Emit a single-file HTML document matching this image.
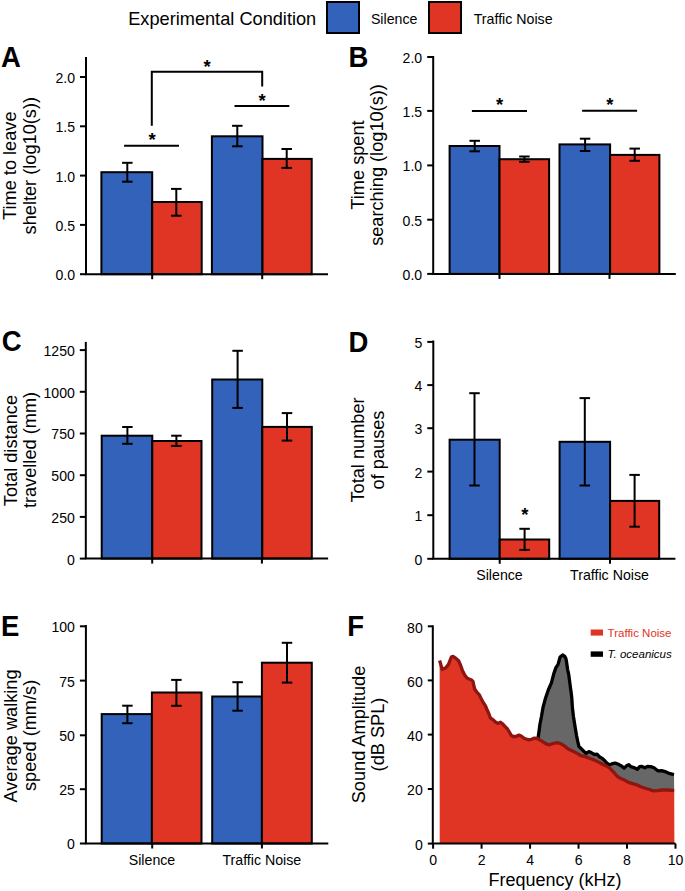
<!DOCTYPE html><html><head><meta charset="utf-8"><style>html,body{margin:0;padding:0;background:#fff;}svg{display:block;}text{font-family:"Liberation Sans", sans-serif;}</style></head><body>
<svg width="685" height="891" viewBox="0 0 685 891">
<rect width="685" height="891" fill="#fff"/>
<text x="128.2" y="24.8" font-size="18.2" text-anchor="start" font-weight="normal" fill="#000">Experimental Condition</text>
<rect x="327" y="2" width="32" height="31" fill="#3262BA" stroke="#000" stroke-width="2"/>
<text x="370.9" y="23.9" font-size="14.2" text-anchor="start" font-weight="normal" fill="#000">Silence</text>
<rect x="429" y="2" width="32" height="31" fill="#E03524" stroke="#000" stroke-width="2"/>
<text x="473.7" y="23.9" font-size="14.2" text-anchor="start" font-weight="normal" fill="#000">Traffic Noise</text>
<text transform="translate(1.0,66.7) scale(1,1.07)" x="0" y="0" font-size="27.5" text-anchor="start" font-weight="bold" fill="#000">A</text>
<text transform="translate(348.5,66.7) scale(1,1.07)" x="0" y="0" font-size="27.5" text-anchor="start" font-weight="bold" fill="#000">B</text>
<text transform="translate(1.7,351.4) scale(1,1.07)" x="0" y="0" font-size="27.5" text-anchor="start" font-weight="bold" fill="#000">C</text>
<text transform="translate(348.5,351.8) scale(1,1.07)" x="0" y="0" font-size="27.5" text-anchor="start" font-weight="bold" fill="#000">D</text>
<text transform="translate(1.0,636.4) scale(1,1.07)" x="0" y="0" font-size="27.5" text-anchor="start" font-weight="bold" fill="#000">E</text>
<text transform="translate(347.2,636.4) scale(1,1.07)" x="0" y="0" font-size="27.5" text-anchor="start" font-weight="bold" fill="#000">F</text>
<rect x="101.4" y="172.2" width="50.79999999999998" height="102.0" fill="#3262BA" stroke="#000" stroke-width="2"/>
<rect x="152.2" y="202" width="49.5" height="72.19999999999999" fill="#E03524" stroke="#000" stroke-width="2"/>
<rect x="211.9" y="136.3" width="50.599999999999994" height="137.89999999999998" fill="#3262BA" stroke="#000" stroke-width="2"/>
<rect x="262.5" y="158.9" width="49.19999999999999" height="115.29999999999998" fill="#E03524" stroke="#000" stroke-width="2"/>
<line x1="127.3" y1="162.8" x2="127.3" y2="181.7" stroke="#000" stroke-width="2"/>
<line x1="122.05" y1="162.8" x2="132.55" y2="162.8" stroke="#000" stroke-width="2"/>
<line x1="122.05" y1="181.7" x2="132.55" y2="181.7" stroke="#000" stroke-width="2"/>
<line x1="176.3" y1="188.9" x2="176.3" y2="215.7" stroke="#000" stroke-width="2"/>
<line x1="171.05" y1="188.9" x2="181.55" y2="188.9" stroke="#000" stroke-width="2"/>
<line x1="171.05" y1="215.7" x2="181.55" y2="215.7" stroke="#000" stroke-width="2"/>
<line x1="237.3" y1="125.8" x2="237.3" y2="146.3" stroke="#000" stroke-width="2"/>
<line x1="232.05" y1="125.8" x2="242.55" y2="125.8" stroke="#000" stroke-width="2"/>
<line x1="232.05" y1="146.3" x2="242.55" y2="146.3" stroke="#000" stroke-width="2"/>
<line x1="286.7" y1="149" x2="286.7" y2="167.9" stroke="#000" stroke-width="2"/>
<line x1="281.45" y1="149" x2="291.95" y2="149" stroke="#000" stroke-width="2"/>
<line x1="281.45" y1="167.9" x2="291.95" y2="167.9" stroke="#000" stroke-width="2"/>
<line x1="86" y1="57" x2="86" y2="274.2" stroke="#000" stroke-width="2"/>
<line x1="80" y1="274.2" x2="86" y2="274.2" stroke="#000" stroke-width="2"/>
<text transform="translate(75,280.1) scale(1,1.06)" x="0" y="0" font-size="14.1" text-anchor="end" font-weight="normal" fill="#000">0.0</text>
<line x1="80" y1="224.9" x2="86" y2="224.9" stroke="#000" stroke-width="2"/>
<text transform="translate(75,230.8) scale(1,1.06)" x="0" y="0" font-size="14.1" text-anchor="end" font-weight="normal" fill="#000">0.5</text>
<line x1="80" y1="175.6" x2="86" y2="175.6" stroke="#000" stroke-width="2"/>
<text transform="translate(75,181.5) scale(1,1.06)" x="0" y="0" font-size="14.1" text-anchor="end" font-weight="normal" fill="#000">1.0</text>
<line x1="80" y1="126.3" x2="86" y2="126.3" stroke="#000" stroke-width="2"/>
<text transform="translate(75,132.2) scale(1,1.06)" x="0" y="0" font-size="14.1" text-anchor="end" font-weight="normal" fill="#000">1.5</text>
<line x1="80" y1="77" x2="86" y2="77" stroke="#000" stroke-width="2"/>
<text transform="translate(75,82.9) scale(1,1.06)" x="0" y="0" font-size="14.1" text-anchor="end" font-weight="normal" fill="#000">2.0</text>
<line x1="85" y1="274.2" x2="328" y2="274.2" stroke="#000" stroke-width="2"/>
<line x1="152.2" y1="274.2" x2="152.2" y2="279.2" stroke="#000" stroke-width="2"/>
<line x1="262.2" y1="274.2" x2="262.2" y2="279.2" stroke="#000" stroke-width="2"/>
<line x1="124.1" y1="145.8" x2="179" y2="145.8" stroke="#000" stroke-width="2"/>
<text x="152" y="146.49" font-size="18.5" text-anchor="middle" font-weight="bold" fill="#000">*</text>
<polyline points="151.8,125.7 151.8,71.8 262.2,71.8 262.2,86.4" fill="none" stroke="#000" stroke-width="2"/>
<text x="207" y="72.73" font-size="18.5" text-anchor="middle" font-weight="bold" fill="#000">*</text>
<line x1="234.5" y1="106.1" x2="289.3" y2="106.1" stroke="#000" stroke-width="2"/>
<text x="262.2" y="107.03" font-size="18.5" text-anchor="middle" font-weight="bold" fill="#000">*</text>
<text transform="translate(16.1,165.7) rotate(-90)" x="0" y="0" font-size="18.2" text-anchor="middle">Time to leave</text>
<text transform="translate(35.8,165.7) rotate(-90)" x="0" y="0" font-size="18.2" text-anchor="middle">shelter (log10(s))</text>
<rect x="449.6" y="146" width="49.89999999999998" height="127.89999999999998" fill="#3262BA" stroke="#000" stroke-width="2"/>
<rect x="499.5" y="159.2" width="49.60000000000002" height="114.69999999999999" fill="#E03524" stroke="#000" stroke-width="2"/>
<rect x="559.5" y="144.4" width="50.60000000000002" height="129.49999999999997" fill="#3262BA" stroke="#000" stroke-width="2"/>
<rect x="610.1" y="154.9" width="49.299999999999955" height="118.99999999999997" fill="#E03524" stroke="#000" stroke-width="2"/>
<line x1="474.7" y1="140.8" x2="474.7" y2="151.3" stroke="#000" stroke-width="2"/>
<line x1="469.45" y1="140.8" x2="479.95" y2="140.8" stroke="#000" stroke-width="2"/>
<line x1="469.45" y1="151.3" x2="479.95" y2="151.3" stroke="#000" stroke-width="2"/>
<line x1="524.4" y1="156.5" x2="524.4" y2="161.8" stroke="#000" stroke-width="2"/>
<line x1="519.15" y1="156.5" x2="529.65" y2="156.5" stroke="#000" stroke-width="2"/>
<line x1="519.15" y1="161.8" x2="529.65" y2="161.8" stroke="#000" stroke-width="2"/>
<line x1="585.1" y1="138.7" x2="585.1" y2="151" stroke="#000" stroke-width="2"/>
<line x1="579.85" y1="138.7" x2="590.35" y2="138.7" stroke="#000" stroke-width="2"/>
<line x1="579.85" y1="151" x2="590.35" y2="151" stroke="#000" stroke-width="2"/>
<line x1="634.7" y1="148.6" x2="634.7" y2="160.8" stroke="#000" stroke-width="2"/>
<line x1="629.45" y1="148.6" x2="639.95" y2="148.6" stroke="#000" stroke-width="2"/>
<line x1="629.45" y1="160.8" x2="639.95" y2="160.8" stroke="#000" stroke-width="2"/>
<line x1="433.2" y1="56" x2="433.2" y2="273.9" stroke="#000" stroke-width="2"/>
<line x1="427.2" y1="273.9" x2="433.2" y2="273.9" stroke="#000" stroke-width="2"/>
<text transform="translate(422.2,279.8) scale(1,1.06)" x="0" y="0" font-size="14.1" text-anchor="end" font-weight="normal" fill="#000">0.0</text>
<line x1="427.2" y1="219.7" x2="433.2" y2="219.7" stroke="#000" stroke-width="2"/>
<text transform="translate(422.2,225.6) scale(1,1.06)" x="0" y="0" font-size="14.1" text-anchor="end" font-weight="normal" fill="#000">0.5</text>
<line x1="427.2" y1="165.4" x2="433.2" y2="165.4" stroke="#000" stroke-width="2"/>
<text transform="translate(422.2,171.3) scale(1,1.06)" x="0" y="0" font-size="14.1" text-anchor="end" font-weight="normal" fill="#000">1.0</text>
<line x1="427.2" y1="110.9" x2="433.2" y2="110.9" stroke="#000" stroke-width="2"/>
<text transform="translate(422.2,116.8) scale(1,1.06)" x="0" y="0" font-size="14.1" text-anchor="end" font-weight="normal" fill="#000">1.5</text>
<line x1="427.2" y1="57" x2="433.2" y2="57" stroke="#000" stroke-width="2"/>
<text transform="translate(422.2,62.9) scale(1,1.06)" x="0" y="0" font-size="14.1" text-anchor="end" font-weight="normal" fill="#000">2.0</text>
<line x1="432.2" y1="273.9" x2="675.8" y2="273.9" stroke="#000" stroke-width="2"/>
<line x1="499.5" y1="273.9" x2="499.5" y2="278.9" stroke="#000" stroke-width="2"/>
<line x1="609.5" y1="273.9" x2="609.5" y2="278.9" stroke="#000" stroke-width="2"/>
<line x1="471.9" y1="111.1" x2="527" y2="111.1" stroke="#000" stroke-width="2"/>
<text x="499.5" y="111.44" font-size="18.5" text-anchor="middle" font-weight="bold" fill="#000">*</text>
<line x1="582.1" y1="110.8" x2="637.1" y2="110.8" stroke="#000" stroke-width="2"/>
<text x="609.8" y="111.44" font-size="18.5" text-anchor="middle" font-weight="bold" fill="#000">*</text>
<text transform="translate(363.6,165) rotate(-90)" x="0" y="0" font-size="18.2" text-anchor="middle">Time spent</text>
<text transform="translate(383,165) rotate(-90)" x="0" y="0" font-size="18.2" text-anchor="middle">searching (log10(s))</text>
<rect x="101.7" y="435.7" width="50.60000000000001" height="122.90000000000003" fill="#3262BA" stroke="#000" stroke-width="2"/>
<rect x="152.3" y="441" width="49.19999999999999" height="117.60000000000002" fill="#E03524" stroke="#000" stroke-width="2"/>
<rect x="212.2" y="379.5" width="50.10000000000002" height="179.10000000000002" fill="#3262BA" stroke="#000" stroke-width="2"/>
<rect x="262.3" y="426.9" width="49.5" height="131.70000000000005" fill="#E03524" stroke="#000" stroke-width="2"/>
<line x1="127.4" y1="427" x2="127.4" y2="443.8" stroke="#000" stroke-width="2"/>
<line x1="122.15" y1="427" x2="132.65" y2="427" stroke="#000" stroke-width="2"/>
<line x1="122.15" y1="443.8" x2="132.65" y2="443.8" stroke="#000" stroke-width="2"/>
<line x1="176.4" y1="435.7" x2="176.4" y2="445.9" stroke="#000" stroke-width="2"/>
<line x1="171.15" y1="435.7" x2="181.65" y2="435.7" stroke="#000" stroke-width="2"/>
<line x1="171.15" y1="445.9" x2="181.65" y2="445.9" stroke="#000" stroke-width="2"/>
<line x1="237.6" y1="350.8" x2="237.6" y2="407.9" stroke="#000" stroke-width="2"/>
<line x1="232.35" y1="350.8" x2="242.85" y2="350.8" stroke="#000" stroke-width="2"/>
<line x1="232.35" y1="407.9" x2="242.85" y2="407.9" stroke="#000" stroke-width="2"/>
<line x1="287" y1="413.1" x2="287" y2="440.6" stroke="#000" stroke-width="2"/>
<line x1="281.75" y1="413.1" x2="292.25" y2="413.1" stroke="#000" stroke-width="2"/>
<line x1="281.75" y1="440.6" x2="292.25" y2="440.6" stroke="#000" stroke-width="2"/>
<line x1="85.8" y1="341.9" x2="85.8" y2="558.6" stroke="#000" stroke-width="2"/>
<line x1="79.8" y1="558.6" x2="85.8" y2="558.6" stroke="#000" stroke-width="2"/>
<text transform="translate(74.8,564.5) scale(1,1.06)" x="0" y="0" font-size="14.1" text-anchor="end" font-weight="normal" fill="#000">0</text>
<line x1="79.8" y1="516.9" x2="85.8" y2="516.9" stroke="#000" stroke-width="2"/>
<text transform="translate(74.8,522.8) scale(1,1.06)" x="0" y="0" font-size="14.1" text-anchor="end" font-weight="normal" fill="#000">250</text>
<line x1="79.8" y1="475.2" x2="85.8" y2="475.2" stroke="#000" stroke-width="2"/>
<text transform="translate(74.8,481.1) scale(1,1.06)" x="0" y="0" font-size="14.1" text-anchor="end" font-weight="normal" fill="#000">500</text>
<line x1="79.8" y1="433.5" x2="85.8" y2="433.5" stroke="#000" stroke-width="2"/>
<text transform="translate(74.8,439.4) scale(1,1.06)" x="0" y="0" font-size="14.1" text-anchor="end" font-weight="normal" fill="#000">750</text>
<line x1="79.8" y1="391.8" x2="85.8" y2="391.8" stroke="#000" stroke-width="2"/>
<text transform="translate(74.8,397.7) scale(1,1.06)" x="0" y="0" font-size="14.1" text-anchor="end" font-weight="normal" fill="#000">1000</text>
<line x1="79.8" y1="350.1" x2="85.8" y2="350.1" stroke="#000" stroke-width="2"/>
<text transform="translate(74.8,356.0) scale(1,1.06)" x="0" y="0" font-size="14.1" text-anchor="end" font-weight="normal" fill="#000">1250</text>
<line x1="84.8" y1="558.6" x2="328.1" y2="558.6" stroke="#000" stroke-width="2"/>
<line x1="152.2" y1="558.6" x2="152.2" y2="563.6" stroke="#000" stroke-width="2"/>
<line x1="261.9" y1="558.6" x2="261.9" y2="563.6" stroke="#000" stroke-width="2"/>
<text transform="translate(16.6,450.6) rotate(-90)" x="0" y="0" font-size="18.2" text-anchor="middle">Total distance</text>
<text transform="translate(35.9,450) rotate(-90)" x="0" y="0" font-size="18.2" text-anchor="middle">travelled (mm)</text>
<rect x="449.6" y="439.7" width="50.099999999999966" height="119.09999999999997" fill="#3262BA" stroke="#000" stroke-width="2"/>
<rect x="499.7" y="539.5" width="49.50000000000006" height="19.299999999999955" fill="#E03524" stroke="#000" stroke-width="2"/>
<rect x="559.6" y="441.8" width="50.5" height="116.99999999999994" fill="#3262BA" stroke="#000" stroke-width="2"/>
<rect x="610.1" y="500.9" width="49.10000000000002" height="57.89999999999998" fill="#E03524" stroke="#000" stroke-width="2"/>
<line x1="474.5" y1="393.2" x2="474.5" y2="485.5" stroke="#000" stroke-width="2"/>
<line x1="469.25" y1="393.2" x2="479.75" y2="393.2" stroke="#000" stroke-width="2"/>
<line x1="469.25" y1="485.5" x2="479.75" y2="485.5" stroke="#000" stroke-width="2"/>
<line x1="524.6" y1="528.8" x2="524.6" y2="549.9" stroke="#000" stroke-width="2"/>
<line x1="519.35" y1="528.8" x2="529.85" y2="528.8" stroke="#000" stroke-width="2"/>
<line x1="519.35" y1="549.9" x2="529.85" y2="549.9" stroke="#000" stroke-width="2"/>
<line x1="584.8" y1="398.1" x2="584.8" y2="485.5" stroke="#000" stroke-width="2"/>
<line x1="579.55" y1="398.1" x2="590.05" y2="398.1" stroke="#000" stroke-width="2"/>
<line x1="579.55" y1="485.5" x2="590.05" y2="485.5" stroke="#000" stroke-width="2"/>
<line x1="634.6" y1="474.9" x2="634.6" y2="526.7" stroke="#000" stroke-width="2"/>
<line x1="629.35" y1="474.9" x2="639.85" y2="474.9" stroke="#000" stroke-width="2"/>
<line x1="629.35" y1="526.7" x2="639.85" y2="526.7" stroke="#000" stroke-width="2"/>
<line x1="433.3" y1="340.5" x2="433.3" y2="558.8" stroke="#000" stroke-width="2"/>
<line x1="427.3" y1="558.8" x2="433.3" y2="558.8" stroke="#000" stroke-width="2"/>
<text transform="translate(422.3,564.7) scale(1,1.06)" x="0" y="0" font-size="14.1" text-anchor="end" font-weight="normal" fill="#000">0</text>
<line x1="427.3" y1="515.2" x2="433.3" y2="515.2" stroke="#000" stroke-width="2"/>
<text transform="translate(422.3,521.1) scale(1,1.06)" x="0" y="0" font-size="14.1" text-anchor="end" font-weight="normal" fill="#000">1</text>
<line x1="427.3" y1="471.6" x2="433.3" y2="471.6" stroke="#000" stroke-width="2"/>
<text transform="translate(422.3,477.5) scale(1,1.06)" x="0" y="0" font-size="14.1" text-anchor="end" font-weight="normal" fill="#000">2</text>
<line x1="427.3" y1="428.2" x2="433.3" y2="428.2" stroke="#000" stroke-width="2"/>
<text transform="translate(422.3,434.1) scale(1,1.06)" x="0" y="0" font-size="14.1" text-anchor="end" font-weight="normal" fill="#000">3</text>
<line x1="427.3" y1="385.1" x2="433.3" y2="385.1" stroke="#000" stroke-width="2"/>
<text transform="translate(422.3,391.0) scale(1,1.06)" x="0" y="0" font-size="14.1" text-anchor="end" font-weight="normal" fill="#000">4</text>
<line x1="427.3" y1="341.9" x2="433.3" y2="341.9" stroke="#000" stroke-width="2"/>
<text transform="translate(422.3,347.8) scale(1,1.06)" x="0" y="0" font-size="14.1" text-anchor="end" font-weight="normal" fill="#000">5</text>
<line x1="432.3" y1="558.8" x2="675.4" y2="558.8" stroke="#000" stroke-width="2"/>
<line x1="499.7" y1="558.8" x2="499.7" y2="563.8" stroke="#000" stroke-width="2"/>
<line x1="610" y1="558.8" x2="610" y2="563.8" stroke="#000" stroke-width="2"/>
<text x="524.9" y="520.83" font-size="18.5" text-anchor="middle" font-weight="bold" fill="#000">*</text>
<text x="499.5" y="580" font-size="14.2" text-anchor="middle" font-weight="normal" fill="#000">Silence</text>
<text x="609.5" y="580" font-size="14.2" text-anchor="middle" font-weight="normal" fill="#000">Traffic Noise</text>
<text transform="translate(364.4,450) rotate(-90)" x="0" y="0" font-size="18.2" text-anchor="middle">Total number</text>
<text transform="translate(383.5,450) rotate(-90)" x="0" y="0" font-size="18.2" text-anchor="middle">of pauses</text>
<rect x="101.7" y="714.1" width="50.2" height="129.39999999999998" fill="#3262BA" stroke="#000" stroke-width="2"/>
<rect x="151.9" y="692.5" width="49.599999999999994" height="151.0" fill="#E03524" stroke="#000" stroke-width="2"/>
<rect x="212.2" y="696.5" width="49.69999999999999" height="147.0" fill="#3262BA" stroke="#000" stroke-width="2"/>
<rect x="261.9" y="662.7" width="49.900000000000034" height="180.79999999999995" fill="#E03524" stroke="#000" stroke-width="2"/>
<line x1="127.4" y1="705.7" x2="127.4" y2="723.2" stroke="#000" stroke-width="2"/>
<line x1="122.15" y1="705.7" x2="132.65" y2="705.7" stroke="#000" stroke-width="2"/>
<line x1="122.15" y1="723.2" x2="132.65" y2="723.2" stroke="#000" stroke-width="2"/>
<line x1="176.4" y1="679.9" x2="176.4" y2="705.8" stroke="#000" stroke-width="2"/>
<line x1="171.15" y1="679.9" x2="181.65" y2="679.9" stroke="#000" stroke-width="2"/>
<line x1="171.15" y1="705.8" x2="181.65" y2="705.8" stroke="#000" stroke-width="2"/>
<line x1="237.6" y1="682.2" x2="237.6" y2="710.7" stroke="#000" stroke-width="2"/>
<line x1="232.35" y1="682.2" x2="242.85" y2="682.2" stroke="#000" stroke-width="2"/>
<line x1="232.35" y1="710.7" x2="242.85" y2="710.7" stroke="#000" stroke-width="2"/>
<line x1="287" y1="642.8" x2="287" y2="682.6" stroke="#000" stroke-width="2"/>
<line x1="281.75" y1="642.8" x2="292.25" y2="642.8" stroke="#000" stroke-width="2"/>
<line x1="281.75" y1="682.6" x2="292.25" y2="682.6" stroke="#000" stroke-width="2"/>
<line x1="85.9" y1="625" x2="85.9" y2="843.5" stroke="#000" stroke-width="2"/>
<line x1="79.9" y1="843.5" x2="85.9" y2="843.5" stroke="#000" stroke-width="2"/>
<text transform="translate(74.9,849.4) scale(1,1.06)" x="0" y="0" font-size="14.1" text-anchor="end" font-weight="normal" fill="#000">0</text>
<line x1="79.9" y1="789.2" x2="85.9" y2="789.2" stroke="#000" stroke-width="2"/>
<text transform="translate(74.9,795.1) scale(1,1.06)" x="0" y="0" font-size="14.1" text-anchor="end" font-weight="normal" fill="#000">25</text>
<line x1="79.9" y1="735.3" x2="85.9" y2="735.3" stroke="#000" stroke-width="2"/>
<text transform="translate(74.9,741.2) scale(1,1.06)" x="0" y="0" font-size="14.1" text-anchor="end" font-weight="normal" fill="#000">50</text>
<line x1="79.9" y1="680.6" x2="85.9" y2="680.6" stroke="#000" stroke-width="2"/>
<text transform="translate(74.9,686.5) scale(1,1.06)" x="0" y="0" font-size="14.1" text-anchor="end" font-weight="normal" fill="#000">75</text>
<line x1="79.9" y1="626.3" x2="85.9" y2="626.3" stroke="#000" stroke-width="2"/>
<text transform="translate(74.9,632.2) scale(1,1.06)" x="0" y="0" font-size="14.1" text-anchor="end" font-weight="normal" fill="#000">100</text>
<line x1="84.9" y1="843.5" x2="328.3" y2="843.5" stroke="#000" stroke-width="2"/>
<line x1="152.2" y1="843.5" x2="152.2" y2="848.5" stroke="#000" stroke-width="2"/>
<line x1="261.9" y1="843.5" x2="261.9" y2="848.5" stroke="#000" stroke-width="2"/>
<text x="152" y="864.7" font-size="14.2" text-anchor="middle" font-weight="normal" fill="#000">Silence</text>
<text x="261.8" y="864.7" font-size="14.2" text-anchor="middle" font-weight="normal" fill="#000">Traffic Noise</text>
<text transform="translate(16.6,736) rotate(-90)" x="0" y="0" font-size="18.2" text-anchor="middle">Average walking</text>
<text transform="translate(36.2,735.4) rotate(-90)" x="0" y="0" font-size="18.2" text-anchor="middle">speed (mm/s)</text>
<polygon points="538.1,737.8 539.2,730 539.8,725 541.5,716.3 543,707.5 545.3,698.8 548.3,690 551.4,682.8 553.6,674.4 555.9,667.6 558.1,664.3 559.2,660.3 560.1,657 562.6,655 564.8,656.4 566,658.7 566.8,663.7 567.6,669.3 568.8,674.9 569.6,681.1 570.4,687.3 571.2,692.9 571.8,698 572.4,707.5 573.4,716.3 574.8,725 575.6,730 576.6,735.8 577.8,741.7 578.9,746.4 581.3,748.7 584.2,751.6 586,753.4 588.9,751.6 591.2,752.5 592.5,753.5 594.7,754.6 597,754.1 599.3,756.7 602.3,758.4 604.6,760.5 606.9,763.1 609.3,764.9 612.2,763.7 615.1,763.1 618.6,764.3 621.5,766 624.2,768.1 626.5,765.8 628.8,764.7 630.8,766.7 633.8,767.6 637.3,769.3 639.6,766.7 641.9,766.4 644.9,767.8 647.4,766.4 650.8,766.6 654,767.8 657.8,770.8 661.6,770.7 666,771.9 670.1,773.7 674,774.6 674.2,790.6 668.4,790 661.5,790 657.7,790.6 653.4,790.9 649.5,789.5 645.2,788.2 640.8,786.8 636.7,784.8 632.6,783.6 628.5,782.4 625,780.3 620.4,778.3 616.9,776 613.4,771.9 609.9,768.4 606.4,766 601.7,763.7 597,761.4 593.5,759.6 590,758.5 585.4,756.6 580.7,755.7 577.2,753.4 572.5,751 567.8,748.7 564.3,745.8 560.8,743.7 557.3,742.6 555,743.2 552.7,743.6 549.8,744.8 546.9,744.2 543.4,742.2 539.9,739.9" fill="#666766"/>
<polygon points="439.6,660.5 442.2,669.3 445.4,668.1 448.4,664.6 451.3,657 453,656.4 455.4,657.9 458.6,660.8 460.6,665.2 462.4,670.4 464.7,675.1 467,678 469,679 471.2,679.7 473,681.4 473.8,685.5 474.7,689 476.8,692.2 479.4,694.9 481.1,698.4 483.2,702.4 485.5,706 487.3,710.3 489.1,714.3 490.3,717.8 493.2,719.9 496.1,722.5 497.8,723.4 500.5,722.2 502.5,723.7 504.9,726.3 507.5,729 509.5,732.4 511.3,735.4 513,736.5 516,736.5 518.9,735.1 521.2,736 524.1,738.3 525.3,738.7 528.8,739.9 531.7,739.3 534,738.1 536.9,738.4 539.9,739.9 543.4,742.2 546.9,744.2 549.8,744.8 552.7,743.6 555,743.2 557.3,742.6 560.8,743.7 564.3,745.8 567.8,748.7 572.5,751 577.2,753.4 580.7,755.7 585.4,756.6 590,758.5 593.5,759.6 597,761.4 601.7,763.7 606.4,766 609.9,768.4 613.4,771.9 616.9,776 620.4,778.3 625,780.3 628.5,782.4 632.6,783.6 636.7,784.8 640.8,786.8 645.2,788.2 649.5,789.5 653.4,790.9 657.7,790.6 661.5,790 668.4,790 674.2,790.6 674.4,843.6 439.7,843.6" fill="#E03524"/>
<polyline points="538.1,737.8 539.2,730 539.8,725 541.5,716.3 543,707.5 545.3,698.8 548.3,690 551.4,682.8 553.6,674.4 555.9,667.6 558.1,664.3 559.2,660.3 560.1,657 562.6,655 564.8,656.4 566,658.7 566.8,663.7 567.6,669.3 568.8,674.9 569.6,681.1 570.4,687.3 571.2,692.9 571.8,698 572.4,707.5 573.4,716.3 574.8,725 575.6,730 576.6,735.8 577.8,741.7 578.9,746.4 581.3,748.7 584.2,751.6 586,753.4 588.9,751.6 591.2,752.5 592.5,753.5 594.7,754.6 597,754.1 599.3,756.7 602.3,758.4 604.6,760.5 606.9,763.1 609.3,764.9 612.2,763.7 615.1,763.1 618.6,764.3 621.5,766 624.2,768.1 626.5,765.8 628.8,764.7 630.8,766.7 633.8,767.6 637.3,769.3 639.6,766.7 641.9,766.4 644.9,767.8 647.4,766.4 650.8,766.6 654,767.8 657.8,770.8 661.6,770.7 666,771.9 670.1,773.7 674,774.6" fill="none" stroke="#000" stroke-width="3.3" stroke-linejoin="round"/>
<polyline points="439.6,660.5 442.2,669.3 445.4,668.1 448.4,664.6 451.3,657 453,656.4 455.4,657.9 458.6,660.8 460.6,665.2 462.4,670.4 464.7,675.1 467,678 469,679 471.2,679.7 473,681.4 473.8,685.5 474.7,689 476.8,692.2 479.4,694.9 481.1,698.4 483.2,702.4 485.5,706 487.3,710.3 489.1,714.3 490.3,717.8 493.2,719.9 496.1,722.5 497.8,723.4 500.5,722.2 502.5,723.7 504.9,726.3 507.5,729 509.5,732.4 511.3,735.4 513,736.5 516,736.5 518.9,735.1 521.2,736 524.1,738.3 525.3,738.7 528.8,739.9 531.7,739.3 534,738.1 536.9,738.4 539.9,739.9 543.4,742.2 546.9,744.2 549.8,744.8 552.7,743.6 555,743.2 557.3,742.6 560.8,743.7 564.3,745.8 567.8,748.7 572.5,751 577.2,753.4 580.7,755.7 585.4,756.6 590,758.5 593.5,759.6 597,761.4 601.7,763.7 606.4,766 609.9,768.4 613.4,771.9 616.9,776 620.4,778.3 625,780.3 628.5,782.4 632.6,783.6 636.7,784.8 640.8,786.8 645.2,788.2 649.5,789.5 653.4,790.9 657.7,790.6 661.5,790 668.4,790 674.2,790.6" fill="none" stroke="#8E1510" stroke-width="3.3" stroke-linejoin="round"/>
<line x1="432.8" y1="625.3" x2="432.8" y2="843.6" stroke="#000" stroke-width="2"/>
<line x1="427.8" y1="843.6" x2="432.8" y2="843.6" stroke="#000" stroke-width="2"/>
<text transform="translate(422.8,850.0) scale(1,1.06)" x="0" y="0" font-size="14.1" text-anchor="end" font-weight="normal" fill="#000">0</text>
<line x1="427.8" y1="789" x2="432.8" y2="789" stroke="#000" stroke-width="2"/>
<text transform="translate(422.8,795.4) scale(1,1.06)" x="0" y="0" font-size="14.1" text-anchor="end" font-weight="normal" fill="#000">20</text>
<line x1="427.8" y1="734.6" x2="432.8" y2="734.6" stroke="#000" stroke-width="2"/>
<text transform="translate(422.8,741.0) scale(1,1.06)" x="0" y="0" font-size="14.1" text-anchor="end" font-weight="normal" fill="#000">40</text>
<line x1="427.8" y1="680.4" x2="432.8" y2="680.4" stroke="#000" stroke-width="2"/>
<text transform="translate(422.8,686.8) scale(1,1.06)" x="0" y="0" font-size="14.1" text-anchor="end" font-weight="normal" fill="#000">60</text>
<line x1="427.8" y1="626.3" x2="432.8" y2="626.3" stroke="#000" stroke-width="2"/>
<text transform="translate(422.8,632.7) scale(1,1.06)" x="0" y="0" font-size="14.1" text-anchor="end" font-weight="normal" fill="#000">80</text>
<line x1="431.8" y1="843.6" x2="675.5" y2="843.6" stroke="#000" stroke-width="2"/>
<line x1="433.1" y1="843.6" x2="433.1" y2="848.7" stroke="#000" stroke-width="2"/>
<text transform="translate(433.1,864.9) scale(1,1.06)" x="0" y="0" font-size="14.1" text-anchor="middle" font-weight="normal" fill="#000">0</text>
<line x1="481.58000000000004" y1="843.6" x2="481.58000000000004" y2="848.7" stroke="#000" stroke-width="2"/>
<text transform="translate(481.58000000000004,864.9) scale(1,1.06)" x="0" y="0" font-size="14.1" text-anchor="middle" font-weight="normal" fill="#000">2</text>
<line x1="530.0600000000001" y1="843.6" x2="530.0600000000001" y2="848.7" stroke="#000" stroke-width="2"/>
<text transform="translate(530.0600000000001,864.9) scale(1,1.06)" x="0" y="0" font-size="14.1" text-anchor="middle" font-weight="normal" fill="#000">4</text>
<line x1="578.54" y1="843.6" x2="578.54" y2="848.7" stroke="#000" stroke-width="2"/>
<text transform="translate(578.54,864.9) scale(1,1.06)" x="0" y="0" font-size="14.1" text-anchor="middle" font-weight="normal" fill="#000">6</text>
<line x1="627.02" y1="843.6" x2="627.02" y2="848.7" stroke="#000" stroke-width="2"/>
<text transform="translate(627.02,864.9) scale(1,1.06)" x="0" y="0" font-size="14.1" text-anchor="middle" font-weight="normal" fill="#000">8</text>
<line x1="675.5" y1="843.6" x2="675.5" y2="848.7" stroke="#000" stroke-width="2"/>
<text transform="translate(675.5,864.9) scale(1,1.06)" x="0" y="0" font-size="14.1" text-anchor="middle" font-weight="normal" fill="#000">10</text>
<text x="555" y="885.5" font-size="18" text-anchor="middle" font-weight="normal" fill="#000">Frequency (kHz)</text>
<text transform="translate(364.7,734.5) rotate(-90)" x="0" y="0" font-size="18.2" text-anchor="middle">Sound Amplitude</text>
<text transform="translate(384,734.5) rotate(-90)" x="0" y="0" font-size="18.2" text-anchor="middle">(dB SPL)</text>
<rect x="590.7" y="629.5" width="12.3" height="6.1" fill="#E03524"/>
<text x="607.6" y="636.6" font-size="11.5" text-anchor="start" font-weight="normal" fill="#E03524">Traffic Noise</text>
<rect x="590.7" y="651.4" width="12.3" height="5.4" fill="#000"/>
<text x="607.6" y="658" font-size="11.5" text-anchor="start" font-weight="normal" fill="#000" font-style="italic">T. oceanicus</text>
</svg></body></html>
